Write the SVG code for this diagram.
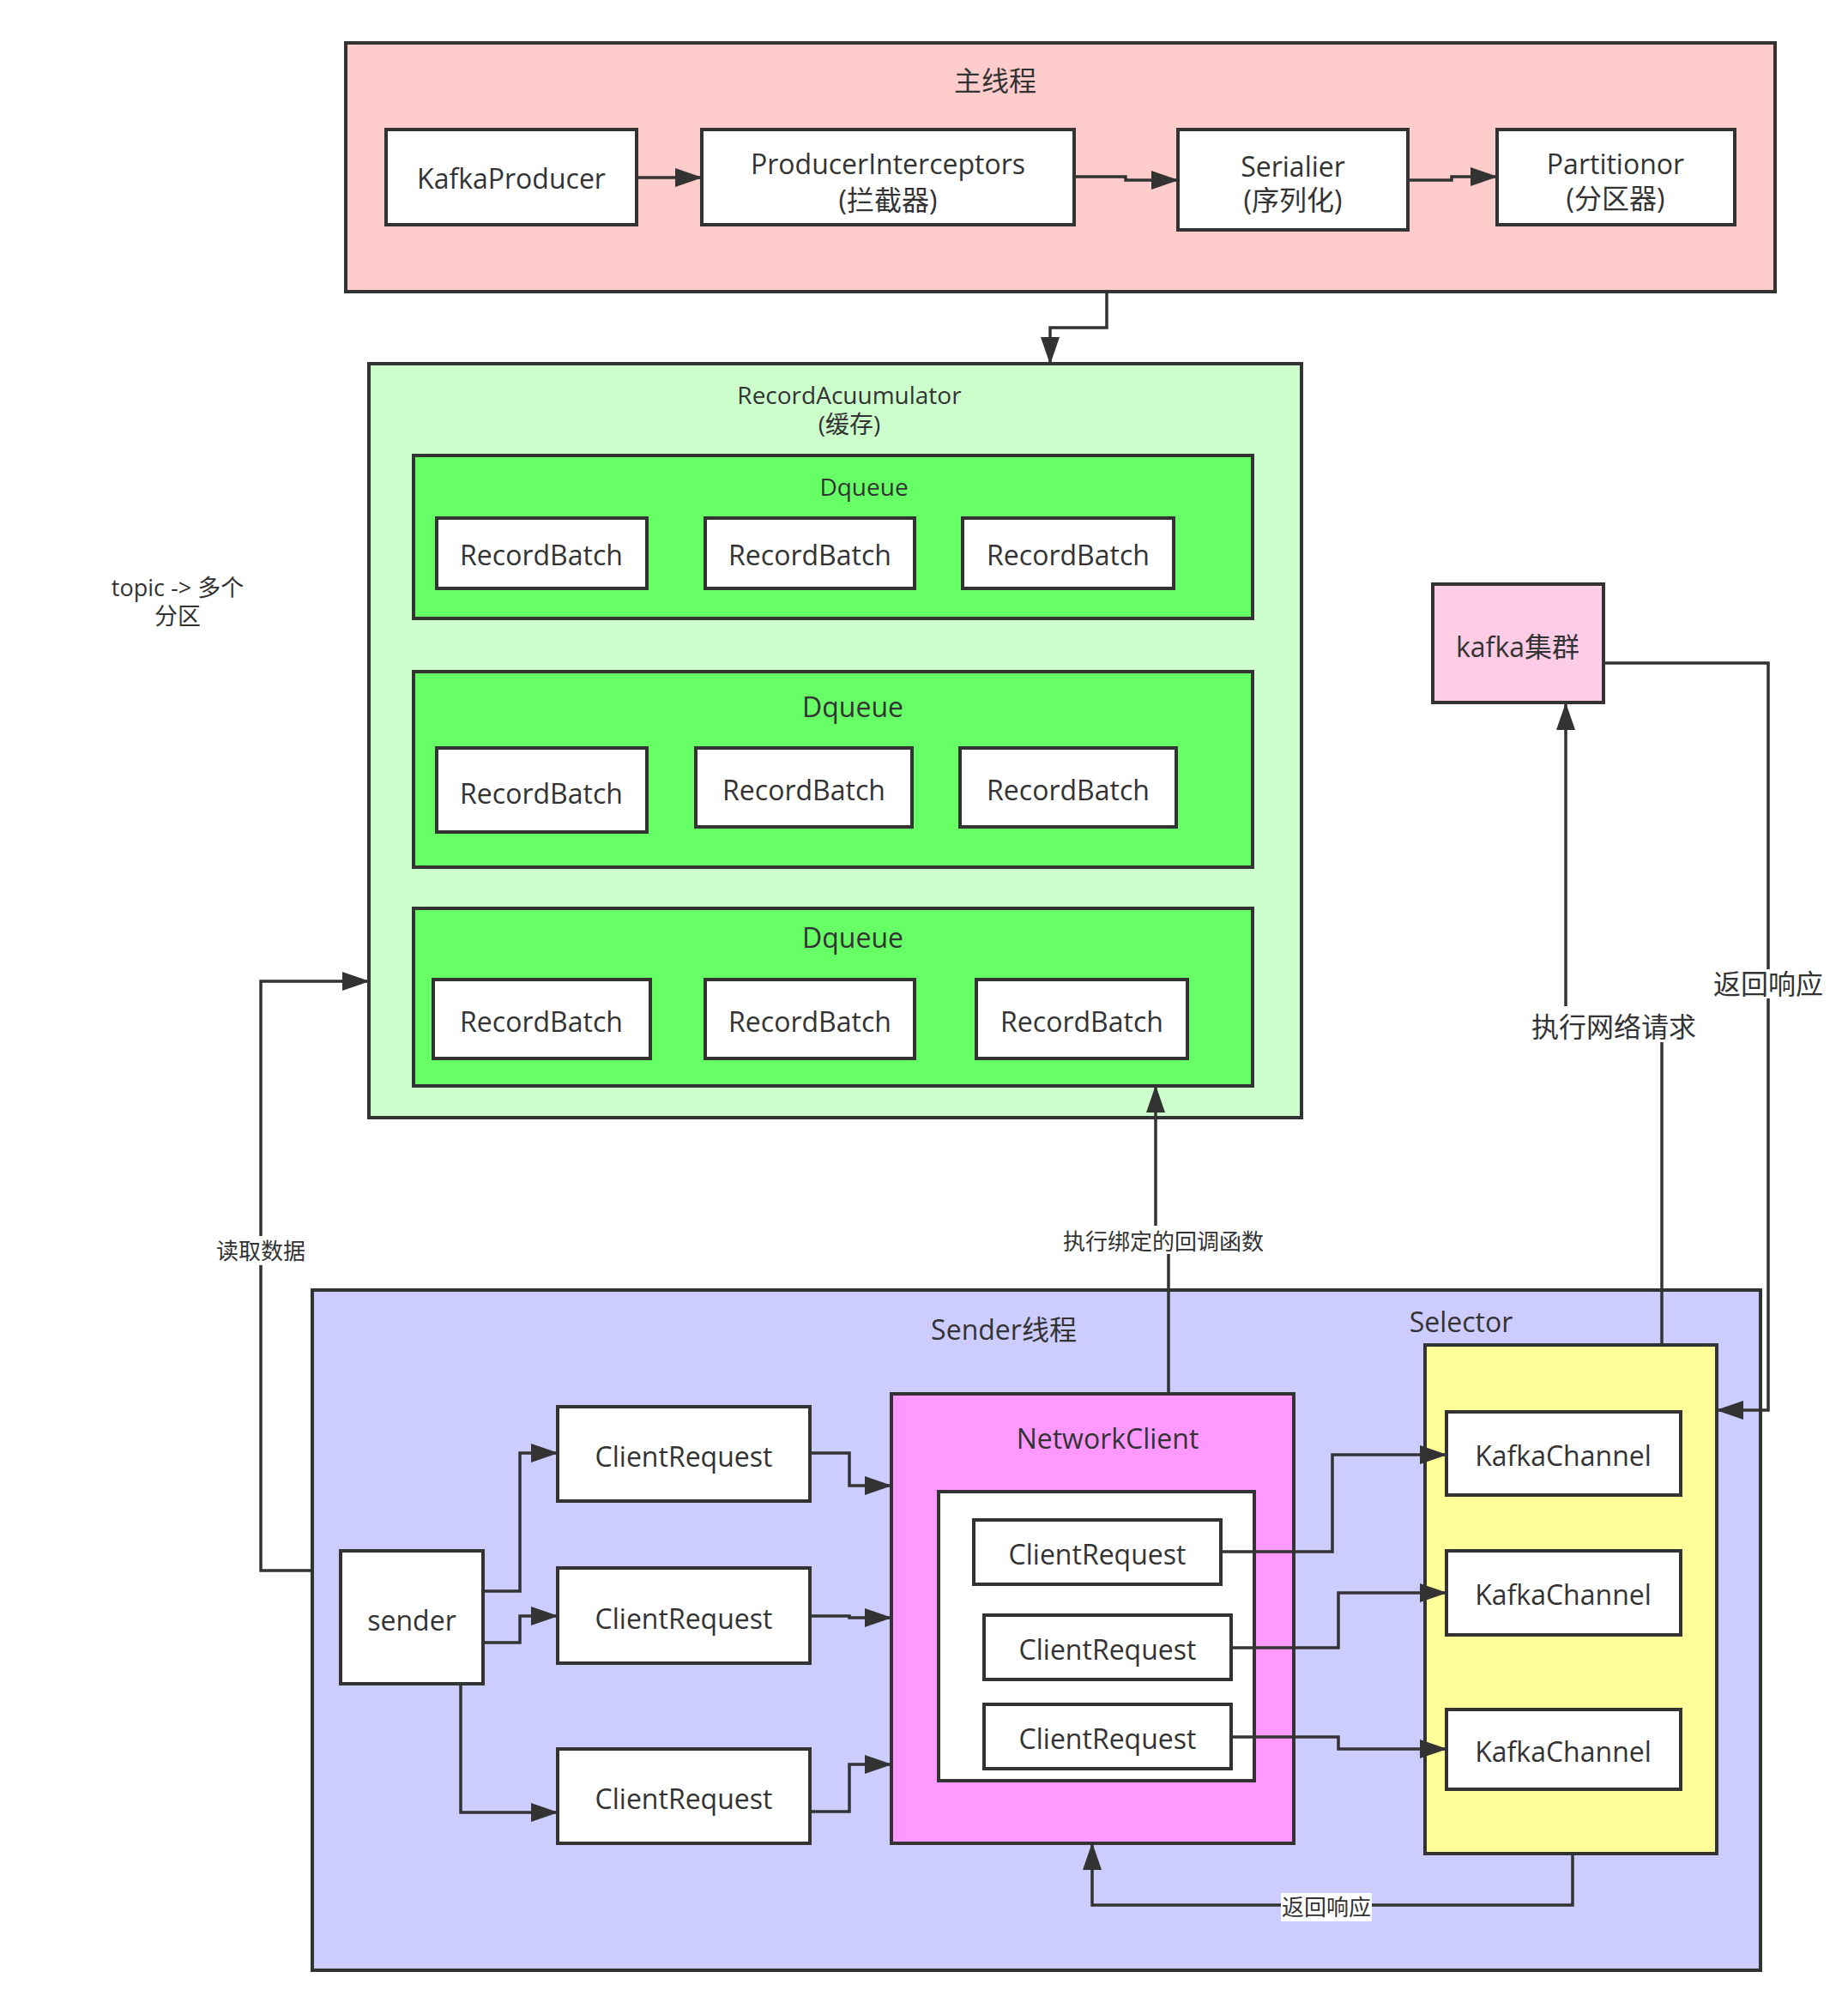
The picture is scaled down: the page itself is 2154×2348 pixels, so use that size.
<svg xmlns="http://www.w3.org/2000/svg" width="2154" height="2348" viewBox="0 0 2154 2348">
<defs>
<style>
text{font-family:"Open Sans","Noto Sans CJK SC",sans-serif;fill:#333333;text-anchor:middle;dominant-baseline:central}
.n{stroke:#333333;stroke-width:4}
.w{fill:#ffffff}
.c{fill:none;stroke:#333333;stroke-width:3.5}
.f32{font-size:32px}
.f28{font-size:28px}
.f26{font-size:26px}
.f27{font-size:27px}
.lb{fill:#ffffff}
</style>
<marker id="a" markerUnits="userSpaceOnUse" markerWidth="32" markerHeight="22" refX="31" refY="11" orient="auto">
<path d="M0,0L32,11L0,22z" fill="#333333"/>
</marker>
</defs>
<rect width="2154" height="2348" fill="#ffffff"/>

<g id="main-thread">
<rect class="n" x="403" y="50" width="1666" height="290" fill="#FFCCCC"/>
<text class="f32" x="1160" y="93">主线程</text>
</g>
<g id="kafka-producer">
<rect class="n w" x="450" y="151" width="292" height="111"/>
<text class="f32" x="596" y="207">KafkaProducer</text>
</g>
<g id="producer-interceptors">
<rect class="n w" x="818" y="151" width="434" height="111"/>
<text class="f32" x="1035" y="190">ProducerInterceptors</text>
<text class="f32" x="1035" y="232">(拦截器)</text>
</g>
<g id="serialier">
<rect class="n w" x="1373" y="151" width="268" height="117"/>
<text class="f32" x="1507" y="193">Serialier</text>
<text class="f32" x="1507" y="232">(序列化)</text>
</g>
<g id="partitionor">
<rect class="n w" x="1745" y="151" width="277" height="111"/>
<text class="f32" x="1883" y="190">Partitionor</text>
<text class="f32" x="1883" y="230">(分区器)</text>
</g>

<g id="record-accumulator">
<rect class="n" x="430" y="424" width="1087" height="879" fill="#CCFFCC"/>
<text class="f28" x="990" y="460">RecordAcuumulator</text>
<text class="f28" x="990" y="494">(缓存)</text>
</g>
<g id="dqueue-1">
<rect class="n" x="482" y="531" width="978" height="190" fill="#66FF66"/>
<text class="f28" x="1007" y="567">Dqueue</text>
</g>
<g id="rb-1-1"><rect class="n w" x="509" y="604" width="245" height="82"/><text class="f32" x="631" y="646">RecordBatch</text></g>
<g id="rb-1-2"><rect class="n w" x="822" y="604" width="244" height="82"/><text class="f32" x="944" y="646">RecordBatch</text></g>
<g id="rb-1-3"><rect class="n w" x="1122" y="604" width="246" height="82"/><text class="f32" x="1245" y="646">RecordBatch</text></g>

<g id="dqueue-2">
<rect class="n" x="482" y="783" width="978" height="228" fill="#66FF66"/>
<text class="f32" x="994" y="823">Dqueue</text>
</g>
<g id="rb-2-1"><rect class="n w" x="509" y="872" width="245" height="98"/><text class="f32" x="631" y="924">RecordBatch</text></g>
<g id="rb-2-2"><rect class="n w" x="811" y="872" width="252" height="92"/><text class="f32" x="937" y="920">RecordBatch</text></g>
<g id="rb-2-3"><rect class="n w" x="1119" y="872" width="252" height="92"/><text class="f32" x="1245" y="920">RecordBatch</text></g>

<g id="dqueue-3">
<rect class="n" x="482" y="1059" width="978" height="207" fill="#66FF66"/>
<text class="f32" x="994" y="1092">Dqueue</text>
</g>
<g id="rb-3-1"><rect class="n w" x="505" y="1142" width="253" height="92"/><text class="f32" x="631" y="1190">RecordBatch</text></g>
<g id="rb-3-2"><rect class="n w" x="822" y="1142" width="244" height="92"/><text class="f32" x="944" y="1190">RecordBatch</text></g>
<g id="rb-3-3"><rect class="n w" x="1138" y="1142" width="246" height="92"/><text class="f32" x="1261" y="1190">RecordBatch</text></g>

<g id="topic-note">
<text class="f27" x="207" y="684">topic -&gt; 多个</text>
<text class="f27" x="207" y="717">分区</text>
</g>

<g id="kafka-cluster">
<rect class="n" x="1670" y="681" width="199" height="138" fill="#FFCCE6"/>
<text class="f32" x="1769" y="753">kafka集群</text>
</g>

<g id="sender-thread">
<rect class="n" x="364" y="1504" width="1688" height="793" fill="#CCCCFF"/>
<text class="f32" x="1170" y="1549">Sender线程</text>
<text class="f32" x="1703" y="1540">Selector</text>
</g>
<g id="sender">
<rect class="n w" x="397" y="1808" width="166" height="155"/>
<text class="f32" x="480" y="1888">sender</text>
</g>
<g id="cr-1"><rect class="n w" x="650" y="1640" width="294" height="110"/><text class="f32" x="797" y="1697">ClientRequest</text></g>
<g id="cr-2"><rect class="n w" x="650" y="1828" width="294" height="111"/><text class="f32" x="797" y="1886">ClientRequest</text></g>
<g id="cr-3"><rect class="n w" x="650" y="2039" width="294" height="110"/><text class="f32" x="797" y="2096">ClientRequest</text></g>

<g id="network-client">
<rect class="n" x="1039" y="1625" width="469" height="524" fill="#FF99FF"/>
<text class="f32" x="1291" y="1676">NetworkClient</text>
<rect class="n w" x="1094" y="1739" width="368" height="337"/>
</g>
<g id="icr-1"><rect class="n w" x="1135" y="1772" width="288" height="75"/><text class="f32" x="1279" y="1811">ClientRequest</text></g>
<g id="icr-2"><rect class="n w" x="1147" y="1883" width="288" height="75"/><text class="f32" x="1291" y="1922">ClientRequest</text></g>
<g id="icr-3"><rect class="n w" x="1147" y="1987" width="288" height="75"/><text class="f32" x="1291" y="2026">ClientRequest</text></g>

<g id="selector">
<rect class="n" x="1661" y="1568" width="340" height="593" fill="#FFFF99"/>
</g>
<g id="kc-1"><rect class="n w" x="1686" y="1646" width="273" height="97"/><text class="f32" x="1822" y="1696">KafkaChannel</text></g>
<g id="kc-2"><rect class="n w" x="1686" y="1808" width="273" height="98"/><text class="f32" x="1822" y="1858">KafkaChannel</text></g>
<g id="kc-3"><rect class="n w" x="1686" y="1993" width="273" height="93"/><text class="f32" x="1822" y="2041">KafkaChannel</text></g>

<g id="connectors">
<path class="c" marker-end="url(#a)" d="M742,207H818"/>
<path class="c" marker-end="url(#a)" d="M1252,206H1312V210H1373"/>
<path class="c" marker-end="url(#a)" d="M1641,210H1692V206H1745"/>
<path class="c" marker-end="url(#a)" d="M1290,340V382H1224V424"/>

<path class="c" marker-end="url(#a)" d="M364,1831H304V1144H430"/>
<rect class="lb" x="250" y="1441" width="108" height="34"/>
<text class="f26" x="304" y="1458">读取数据</text>

<path class="c" marker-end="url(#a)" d="M563,1855H606V1694H650"/>
<path class="c" marker-end="url(#a)" d="M563,1915H606V1884H650"/>
<path class="c" marker-end="url(#a)" d="M537,1963V2113H650"/>

<path class="c" marker-end="url(#a)" d="M944,1694H990V1732H1039"/>
<path class="c" marker-end="url(#a)" d="M944,1884H990V1886H1039"/>
<path class="c" marker-end="url(#a)" d="M944,2112H990V2057H1039"/>

<path class="c" marker-end="url(#a)" d="M1423,1809H1553V1696H1686"/>
<path class="c" marker-end="url(#a)" d="M1435,1921H1560V1857H1686"/>
<path class="c" marker-end="url(#a)" d="M1435,2025H1560V2039H1686"/>

<path class="c" marker-end="url(#a)" d="M1833,2161V2221H1273V2149"/>
<rect class="lb" x="1493" y="2207" width="106" height="33"/>
<text class="f26" x="1546" y="2223">返回响应</text>

<path class="c" marker-end="url(#a)" d="M1362,1625V1446H1347V1266"/>
<rect class="lb" x="1238" y="1429" width="236" height="33"/>
<text class="f26" x="1356" y="1447">执行绑定的回调函数</text>

<path class="c" marker-end="url(#a)" d="M1937,1568V1198H1825V820"/>
<rect class="lb" x="1784" y="1173" width="194" height="42"/>
<text class="f32" x="1881" y="1196">执行网络请求</text>

<path class="c" marker-end="url(#a)" d="M1869,773H2061V1644H2001"/>
<rect class="lb" x="1996" y="1130" width="130" height="34"/>
<text class="f32" x="2061" y="1146">返回响应</text>
</g>
</svg>
